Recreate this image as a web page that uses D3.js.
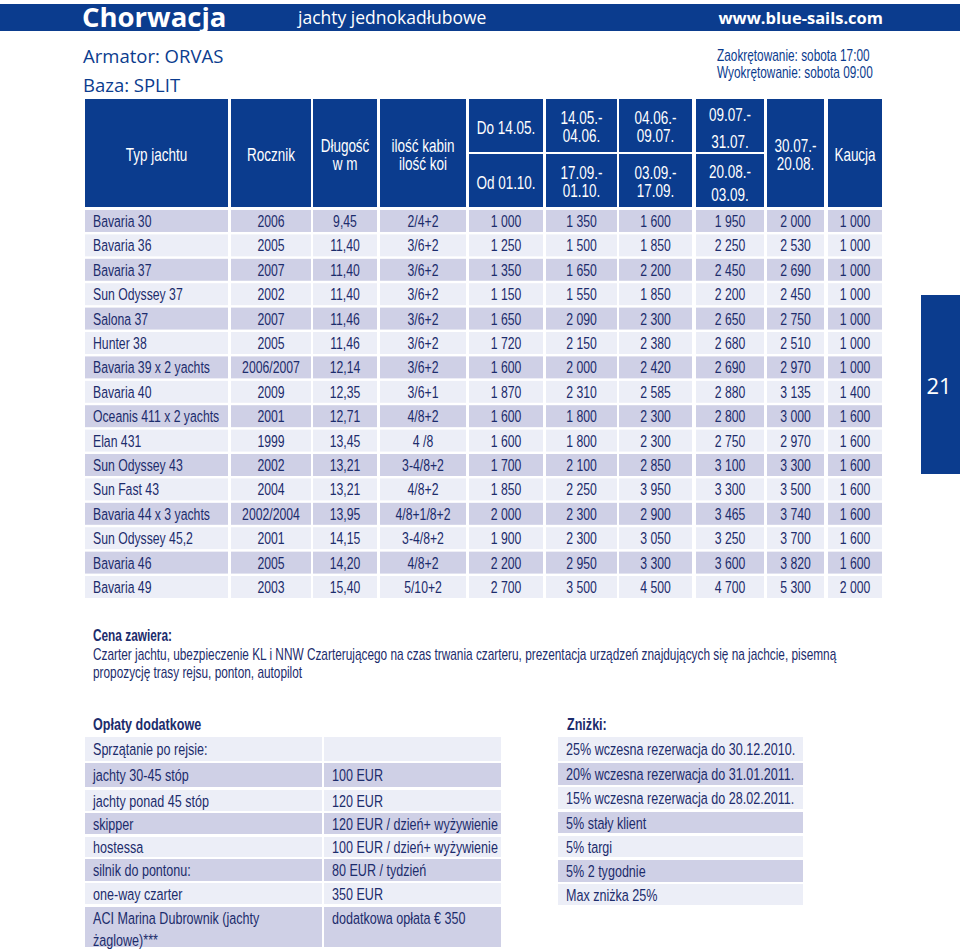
<!DOCTYPE html>
<html>
<head>
<meta charset="utf-8">
<script src="https://cdn.jsdelivr.net/npm/d3@7"></script>
<style>
  body { margin: 0; background: #fff; }
  svg text { font-family: "Liberation Sans", Arial, sans-serif; }
  svg text.wide { font-family: "Open Sans", "Noto Sans", sans-serif; }
</style>
</head>
<body>
<div id="chart"></div>
<script>
// Table data
const yachts = ["Bavaria 30", "Bavaria 36", "Bavaria 37", "Sun Odyssey 37", "Salona 37", "Hunter 38",
    "Bavaria 39 x 2 yachts", "Bavaria 40", "Oceanis 411 x 2 yachts", "Elan 431", "Sun Odyssey 43",
    "Sun Fast 43", "Bavaria 44 x 3 yachts", "Sun Odyssey 45,2", "Bavaria 46", "Bavaria 49"];
const years = ["2006", "2005", "2007", "2002", "2007", "2005", "2006/2007", "2009", "2001", "1999",
    "2002", "2004", "2002/2004", "2001", "2005", "2003"];
const lengths = [9.45, 11.40, 11.40, 11.40, 11.46, 11.46, 12.14, 12.35, 12.71, 13.45, 13.21, 13.21, 13.95, 14.15, 14.20, 15.40];
const cabins = ["2/4+2", "3/6+2", "3/6+2", "3/6+2", "3/6+2", "3/6+2", "3/6+2", "3/6+1", "4/8+2", "4 /8",
    "3-4/8+2", "4/8+2", "4/8+1/8+2", "3-4/8+2", "4/8+2", "5/10+2"];
const season1 = [1000, 1250, 1350, 1150, 1650, 1720, 1600, 1870, 1600, 1600, 1700, 1850, 2000, 1900, 2200, 2700];
const season2 = [1350, 1500, 1650, 1550, 2090, 2150, 2000, 2310, 1800, 1800, 2100, 2250, 2300, 2300, 2950, 3500];
const season3 = [1600, 1850, 2200, 1850, 2300, 2380, 2420, 2585, 2300, 2300, 2850, 3950, 2900, 3050, 3300, 4500];
const season4 = [1950, 2250, 2450, 2200, 2650, 2680, 2690, 2880, 2800, 2750, 3100, 3300, 3465, 3250, 3600, 4700];
const season5 = [2000, 2530, 2690, 2450, 2750, 2510, 2970, 3135, 3000, 2970, 3300, 3500, 3740, 3700, 3820, 5300];
const deposit = [1000, 1000, 1000, 1000, 1000, 1000, 1000, 1400, 1600, 1600, 1600, 1600, 1600, 1600, 1600, 2000];

const extraNames = ["Sprzątanie po rejsie:", "jachty 30-45 stóp", "jachty ponad 45 stóp", "skipper", "hostessa",
    "silnik do pontonu:", "one-way czarter", "ACI Marina Dubrownik (jachty\nżaglowe)***"];
const extraPrices = ["", "100 EUR", "120 EUR", "120 EUR / dzień+ wyżywienie", "100 EUR / dzień+ wyżywienie",
    "80 EUR / tydzień", "350 EUR", "dodatkowa opłata  € 350"];
const discounts = ["25% wczesna rezerwacja do 30.12.2010.", "20% wczesna rezerwacja do 31.01.2011.",
    "15% wczesna rezerwacja do 28.02.2011.", "5% stały klient", "5% targi", "5% 2 tygodnie", "Max zniżka 25%"];

const width = 960;
const height = 950;
const blue = "#0b3c8e";
const navy = "#1c2c6c";
const darkRow = "#cfd0e6";
const lightRow = "#eceef7";
const squeeze = 0.74;   // fake a condensed face

const loc = d3.formatLocale({ decimal: ",", thousands: " ", grouping: [3], currency: ["", ""] });
const fmtPrice = loc.format(",");
const fmtLen = loc.format(".2f");

const svg = d3.select("#chart").append("svg")
    .attr("width", width)
    .attr("height", height);

// condensed text helper
function ctext(parent, x, y, str, size, opts = {}) {
    return parent.append("text")
        .attr("transform", `translate(${x},${y}) scale(${opts.sx || squeeze},1)`)
        .attr("font-size", size)
        .attr("font-weight", opts.bold ? "bold" : null)
        .attr("text-anchor", opts.anchor || "start")
        .attr("fill", opts.fill || navy)
        .text(str);
}

// Top banner
svg.append("rect").attr("x", 0).attr("y", 4).attr("width", width).attr("height", 27).attr("fill", blue);
svg.append("text").attr("class", "wide").attr("x", 82).attr("y", 27)
    .attr("font-size", 27.5).attr("font-weight", "bold").attr("fill", "#fff").text("Chorwacja");
svg.append("text").attr("class", "wide").attr("x", 298).attr("y", 24)
    .attr("font-size", 17.5).attr("fill", "#fff").text("jachty jednokadłubowe");
svg.append("text").attr("class", "wide").attr("x", 883).attr("y", 24).attr("text-anchor", "end")
    .attr("font-size", 16.5).attr("font-weight", "bold").attr("fill", "#fff").text("www.blue-sails.com");

svg.append("text").attr("class", "wide").attr("x", 83).attr("y", 63)
    .attr("font-size", 18.5).attr("fill", blue).text("Armator: ORVAS");
svg.append("text").attr("class", "wide").attr("x", 83).attr("y", 92)
    .attr("font-size", 18.5).attr("fill", blue).text("Baza: SPLIT");
ctext(svg, 717, 61, "Zaokrętowanie: sobota 17:00", 16, { fill: blue });
ctext(svg, 717, 78, "Wyokrętowanie: sobota 09:00", 16, { fill: blue });

// Page number tab
svg.append("rect").attr("x", 921).attr("y", 295).attr("width", 39).attr("height", 179).attr("fill", blue);
svg.append("text").attr("class", "wide").attr("x", 939).attr("y", 394).attr("text-anchor", "middle")
    .attr("font-size", 22).attr("fill", "#fff").text("21");

// Main table layout
const colEdges = [[85, 228], [231, 311], [313, 377], [380, 466], [469, 543], [546, 617], [619, 692], [696, 764], [767, 824], [828, 882]];
const headTop = 99, headMid = 153, headBottom = 207;

const head = svg.append("g");
const headCells = [
    { c: 0, y0: headTop, y1: headBottom, lines: [["Typ jachtu", 161]] },
    { c: 1, y0: headTop, y1: headBottom, lines: [["Rocznik", 161]] },
    { c: 2, y0: headTop, y1: headBottom, lines: [["Długość", 152], ["w m", 170]] },
    { c: 3, y0: headTop, y1: headBottom, lines: [["ilość kabin", 152], ["ilość koi", 170]] },
    { c: 4, y0: headTop, y1: headMid - 1, lines: [["Do 14.05.", 134]] },
    { c: 4, y0: headMid + 1, y1: headBottom, lines: [["Od 01.10.", 189]] },
    { c: 5, y0: headTop, y1: headMid - 1, lines: [["14.05.-", 124], ["04.06.", 142]] },
    { c: 5, y0: headMid + 1, y1: headBottom, lines: [["17.09.-", 179], ["01.10.", 197]] },
    { c: 6, y0: headTop, y1: headMid - 1, lines: [["04.06.-", 124], ["09.07.", 142]] },
    { c: 6, y0: headMid + 1, y1: headBottom, lines: [["03.09.-", 179], ["17.09.", 197]] },
    { c: 7, y0: headTop, y1: headMid - 1, lines: [["09.07.-", 121], ["31.07.", 148]] },
    { c: 7, y0: headMid + 1, y1: headBottom, lines: [["20.08.-", 178], ["03.09.", 201]] },
    { c: 8, y0: headTop, y1: headBottom, lines: [["30.07.-", 152], ["20.08.", 170]] },
    { c: 9, y0: headTop, y1: headBottom, lines: [["Kaucja", 161]] }
];
headCells.forEach(h => {
    const [x0, x1] = colEdges[h.c];
    head.append("rect").attr("x", x0).attr("y", h.y0).attr("width", x1 - x0).attr("height", h.y1 - h.y0).attr("fill", blue);
    h.lines.forEach(([t, y]) => {
        ctext(head, (x0 + x1) / 2, y, t, 18, { anchor: "middle", fill: "#fff", sx: 0.75 });
    });
});

const rowScale = d3.scaleBand()
    .domain(d3.range(yachts.length))
    .range([210, 598])
    .paddingInner(0.1);

const columns = [
    i => yachts[i], i => years[i], i => fmtLen(lengths[i]), i => cabins[i],
    i => fmtPrice(season1[i]), i => fmtPrice(season2[i]), i => fmtPrice(season3[i]),
    i => fmtPrice(season4[i]), i => fmtPrice(season5[i]), i => fmtPrice(deposit[i])
];

const rows = svg.append("g").selectAll("g.row")
    .data(d3.range(yachts.length))
    .enter()
    .append("g")
    .attr("class", "row")
    .attr("transform", i => `translate(0,${rowScale(i)})`);

columns.forEach((fn, c) => {
    const [x0, x1] = colEdges[c];
    rows.append("rect")
        .attr("x", x0)
        .attr("width", x1 - x0)
        .attr("height", rowScale.bandwidth())
        .attr("fill", i => i % 2 === 0 ? darkRow : lightRow);
    rows.each(function (i) {
        ctext(d3.select(this), c === 0 ? x0 + 8 : (x0 + x1) / 2, rowScale.bandwidth() / 2 + 6, fn(i), 17,
            { anchor: c === 0 ? "start" : "middle", sx: 0.72 });
    });
});

// Price includes
ctext(svg, 93, 641, "Cena zawiera:", 16, { bold: true });
ctext(svg, 93, 660, "Czarter jachtu, ubezpieczenie KL i NNW Czarterującego na czas trwania czarteru, prezentacja urządzeń znajdujących się na jachcie, pisemną", 16);
ctext(svg, 93, 678, "propozycję trasy rejsu, ponton, autopilot", 16);

// Extra fees table
ctext(svg, 93, 730, "Opłaty dodatkowe", 17, { bold: true });

const extraRows = [[737, 761], [763, 787], [790, 811], [813, 834], [837, 857], [859, 881], [883, 904], [907, 947]];
const extraCols = [[85, 322], [324, 501]];
const extra = svg.append("g").selectAll("g")
    .data(d3.range(extraNames.length))
    .enter()
    .append("g");

extraCols.forEach(([x0, x1], c) => {
    extra.append("rect")
        .attr("x", x0)
        .attr("y", i => extraRows[i][0])
        .attr("width", x1 - x0)
        .attr("height", i => extraRows[i][1] - extraRows[i][0])
        .attr("fill", i => i % 2 === 1 ? darkRow : lightRow);
    extra.each(function (i) {
        const txt = c === 0 ? extraNames[i] : extraPrices[i];
        const lines = txt.split("\n");
        const top = extraRows[i][0];
        const h = extraRows[i][1] - extraRows[i][0] > 30 ? 22 : extraRows[i][1] - extraRows[i][0];
        lines.forEach((l, k) => {
            ctext(d3.select(this), x0 + 8, top + h / 2 + 6 + k * 22, l, 17);
        });
    });
});

// Discounts table
ctext(svg, 567, 730, "Zniżki:", 17, { bold: true });

const discRows = [[737, 761], [763, 785], [787, 809], [812, 833], [836, 857], [860, 882], [884, 905]];
const disc = svg.append("g").selectAll("g")
    .data(d3.range(discounts.length))
    .enter()
    .append("g");
disc.append("rect")
    .attr("x", 558)
    .attr("y", i => discRows[i][0])
    .attr("width", 245)
    .attr("height", i => discRows[i][1] - discRows[i][0])
    .attr("fill", i => i % 2 === 1 ? darkRow : lightRow);
disc.each(function (i) {
    ctext(d3.select(this), 566, (discRows[i][0] + discRows[i][1]) / 2 + 6, discounts[i], 17);
});
</script>
</body>
</html>
